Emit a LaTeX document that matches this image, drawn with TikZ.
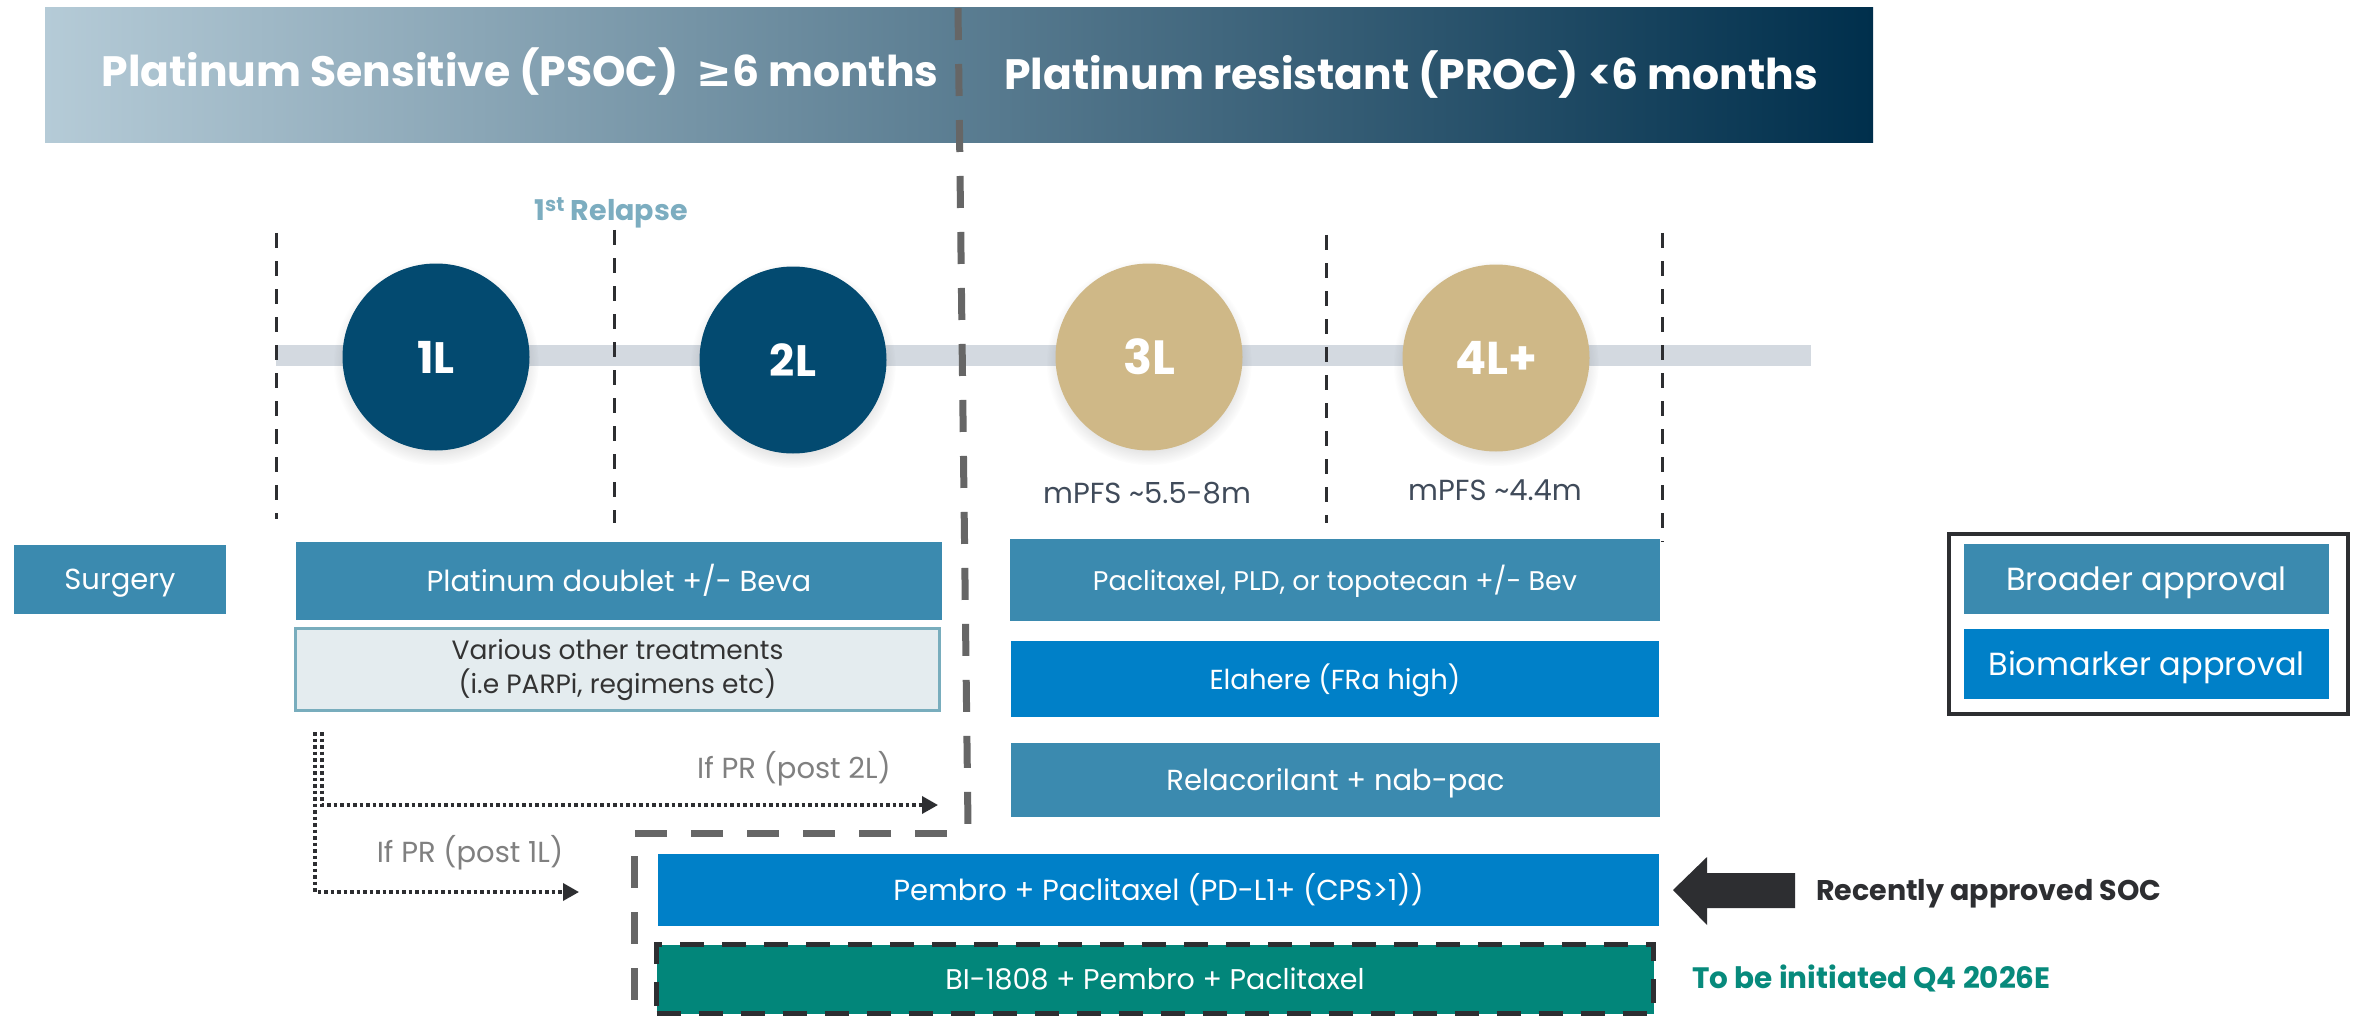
\documentclass[tikz,border=0pt]{standalone}
\usepackage{fontspec}
\setmainfont{Poppins}
\newfontfamily\symfont{DejaVu Sans}
\usetikzlibrary{arrows.meta,shadows}
\definecolor{steel}{HTML}{3B8AAF}
\definecolor{bright}{HTML}{0080C8}
\definecolor{tealc}{HTML}{02867A}
\definecolor{navy}{HTML}{034A70}
\definecolor{tan}{HTML}{CFB887}
\definecolor{lfill}{HTML}{E4ECEF}
\definecolor{lbord}{HTML}{78ADBD}
\definecolor{darkc}{HTML}{2D2E31}
\definecolor{barc}{HTML}{D3D9E0}
\definecolor{grayd}{HTML}{666666}
\definecolor{hdrL}{HTML}{B5CBD7}
\definecolor{hdrM}{HTML}{5D8DA5}
\definecolor{hdrR}{HTML}{002F4C}
\definecolor{relc}{HTML}{7CADC0}
\definecolor{slate}{HTML}{404B5A}
\definecolor{prgray}{HTML}{808080}
\definecolor{tealtxt}{HTML}{078A7C}
\definecolor{vartxt}{HTML}{333333}
\tikzset{
  hdr/.style={anchor=base, text=white, inner sep=0, font=\fontsize{42.5pt}{50pt}\selectfont\bfseries},
  circ/.style={circle, minimum size=187pt, inner sep=0, text=white,
     circular drop shadow={shadow xshift=0pt, shadow yshift=-5pt, opacity=0.10, fill=black}},
  circfont/.style={font=\fontsize{#1}{#1}\selectfont\bfseries},
  box/.style={rectangle, inner sep=0, text=white, font=\fontsize{29pt}{34pt}\selectfont,
     text height=20pt, text depth=0pt},
  legbox/.style={box, font=\fontsize{32pt}{38pt}\selectfont, text height=22pt},
  thindash/.style={draw=darkc, line width=3pt, dash pattern=on 15pt off 13pt},
  bigdash/.style={draw=grayd, line width=7pt, dash pattern=on 32pt off 24pt},
  dotarrow/.style={draw=darkc, line width=3.5pt, dash pattern=on 3.5pt off 3pt,
     -{Triangle[length=16pt,width=17pt]}},
  lbl/.style={anchor=base, inner sep=0, font=\fontsize{29pt}{33pt}\selectfont},
}
\begin{document}
\begin{tikzpicture}[x=1pt,y=-1pt]
\useasboundingbox (0,0) rectangle (2361,1019);
\fill[white] (0,0) rectangle (2361,1019);

% header band
\shade[left color=hdrL, middle color=hdrM, right color=hdrR] (45,8) rectangle (1873,143);
\node[hdr] (psoc) at (520,87) {Platinum Sensitive (PSOC)\ \ {\symfont ≥}6 months};
\node[hdr] (proc) at (1411,90) {Platinum resistant (PROC) <6 months};

% timeline
\fill[barc] (276,345) rectangle (1811,366);
\draw[thindash] (276,233) -- (276,519);
\draw[thindash] (614,230) -- (614,523);
\draw[thindash] (1326,235) -- (1326,523);
\draw[thindash] (1662,233) -- (1662,542);

\node[circ, fill=navy, circfont=44pt] (l1) at (436,357) {1L};
\node[circ, fill=navy, circfont=44pt] (l2) at (793,360) {2L};
\node[circ, fill=tan, circfont=48pt] (l3) at (1149,357) {3L};
\node[circ, fill=tan, circfont=46pt] (l4) at (1496,358) {4L+};

\node[lbl, text=relc, font=\fontsize{28.5pt}{32pt}\selectfont\bfseries] (rel) at (611,221) {1\textsuperscript{st} Relapse};
\node[lbl, text=slate] (pfs3) at (1147,503) {mPFS \textasciitilde5.5-8m};
\node[lbl, text=slate] (pfs4) at (1495,500) {mPFS \textasciitilde4.4m};

% treatment boxes
\node[box, fill=steel, minimum width=212pt, minimum height=69pt] (surg) at (120,579.5) {Surgery};
\node[box, fill=steel, minimum width=646pt, minimum height=78pt] (plat) at (619,581) {Platinum doublet +/- Beva};
\node[draw=lbord, line width=3pt, fill=lfill, minimum width=644pt, minimum height=82pt,
      align=center, text=vartxt, inner sep=0,
      font=\fontsize{26.5pt}{34pt}\selectfont] (var) at (617.5,669.5)
      {Various other treatments\\(i.e PARPi, regimens etc)};
\node[box, fill=steel, minimum width=650pt, minimum height=82pt, font=\fontsize{27pt}{32pt}\selectfont] (pacl) at (1335,580) {Paclitaxel, PLD, or topotecan +/- Bev};
\node[box, fill=bright, minimum width=648pt, minimum height=76pt, font=\fontsize{27.5pt}{32pt}\selectfont] (ela) at (1335,679) {Elahere (FRa high)};
\node[box, fill=steel, minimum width=649pt, minimum height=74pt] (rela) at (1335.5,780) {Relacorilant + nab-pac};
\node[box, fill=bright, minimum width=1001pt, minimum height=72pt] (pem) at (1158.5,890) {Pembro + Paclitaxel (PD-L1+ (CPS>1))};
\node[box, fill=tealc, draw=darkc, line width=5pt, dash pattern=on 24pt off 18pt,
      minimum width=997pt, minimum height=69pt, font=\fontsize{28.5pt}{32pt}\selectfont] (bi) at (1155,979) {BI-1808 + Pembro + Paclitaxel};

% legend
\node[draw=darkc, line width=4pt, minimum width=399pt, minimum height=180pt, inner sep=0] (leg) at (2148.5,624) {};
\node[legbox, fill=steel, minimum width=365pt, minimum height=70pt] (broad) at (2146.5,579) {Broader approval};
\node[legbox, fill=bright, minimum width=365pt, minimum height=70pt] (bio) at (2146.5,664) {Biomarker approval};

% pointer arrow
\fill[darkc] (1673,890) -- (1707,857) -- (1707,873) -- (1795,873) -- (1795,908) -- (1707,908) -- (1707,925) -- cycle;
\node[anchor=base west, inner sep=0, text=darkc, font=\fontsize{28.5pt}{32pt}\selectfont\bfseries] (recent) at (1816,900) {Recently approved SOC};
\node[anchor=base west, inner sep=0, text=tealtxt, font=\fontsize{29.5pt}{33pt}\selectfont\bfseries] (tobe) at (1692,988) {To be initiated Q4 2026E};

% dotted arrows
\coordinate (a0) at (322,732);
\coordinate (a1) at (938,805);
\coordinate (b0) at (315,732);
\coordinate (b1) at (579,892);
\draw[dotarrow] (a0) |- (a1);
\draw[dotarrow] (b0) |- (b1);
\node[lbl, text=prgray] (pr2) at (794,778) {If PR (post 2L)};
\node[lbl, text=prgray] (pr1) at (470,862) {If PR (post 1L)};

% big dashed divider
\draw[bigdash] (958,8) -- (968,826);
\draw[bigdash] (947,833) -- (634,833) -- (634,1019);
\end{tikzpicture}
\end{document}
